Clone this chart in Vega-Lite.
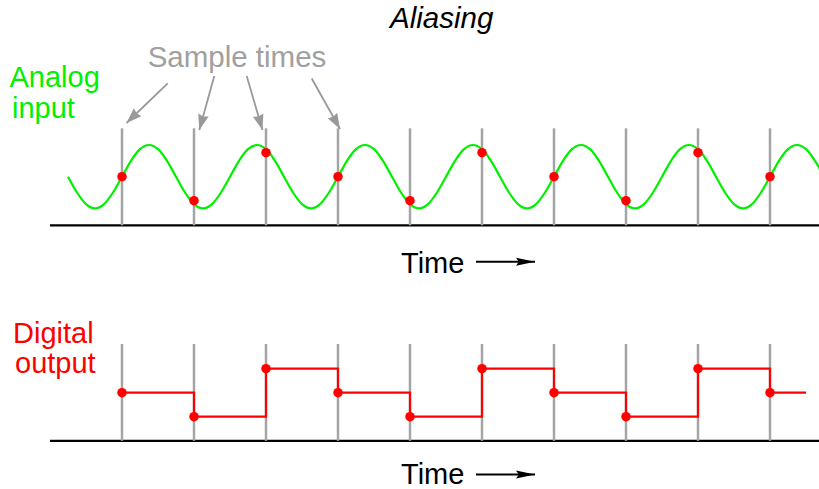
{
  "$schema": "https://vega.github.io/schema/vega-lite/v6.json",
  "width": 819,
  "height": 489,
  "padding": 0,
  "autosize": {"type": "none"},
  "background": "white",
  "config": {"view": {"stroke": null}},
  "datasets": {
    "analog": [
      {"t":0.25,"v":312.3},{"t":0.375,"v":296.5},{"t":0.5,"v":284.9},{"t":0.625,"v":280.6},{"t":0.75,"v":284.9},{"t":0.875,"v":296.5},
      {"t":1.0,"v":312.3},{"t":1.125,"v":328.2},{"t":1.25,"v":339.8},{"t":1.375,"v":344.0},{"t":1.5,"v":339.8},{"t":1.625,"v":328.2},
      {"t":1.75,"v":312.3},{"t":1.875,"v":296.5},{"t":2.0,"v":284.9},{"t":2.125,"v":280.6},{"t":2.25,"v":284.9},{"t":2.375,"v":296.5},
      {"t":2.5,"v":312.3},{"t":2.625,"v":328.2},{"t":2.75,"v":339.8},{"t":2.875,"v":344.0},{"t":3.0,"v":339.8},{"t":3.125,"v":328.2},
      {"t":3.25,"v":312.3},{"t":3.375,"v":296.5},{"t":3.5,"v":284.9},{"t":3.625,"v":280.6},{"t":3.75,"v":284.9},{"t":3.875,"v":296.5},
      {"t":4.0,"v":312.3},{"t":4.125,"v":328.2},{"t":4.25,"v":339.8},{"t":4.375,"v":344.0},{"t":4.5,"v":339.8},{"t":4.625,"v":328.2},
      {"t":4.75,"v":312.3},{"t":4.875,"v":296.5},{"t":5.0,"v":284.9},{"t":5.125,"v":280.6},{"t":5.25,"v":284.9},{"t":5.375,"v":296.5},
      {"t":5.5,"v":312.3},{"t":5.625,"v":328.2},{"t":5.75,"v":339.8},{"t":5.875,"v":344.0},{"t":6.0,"v":339.8},{"t":6.125,"v":328.2},
      {"t":6.25,"v":312.3},{"t":6.375,"v":296.5},{"t":6.5,"v":284.9},{"t":6.625,"v":280.6},{"t":6.75,"v":284.9},{"t":6.875,"v":296.5},
      {"t":7.0,"v":312.3},{"t":7.125,"v":328.2},{"t":7.25,"v":339.8},{"t":7.375,"v":344.0},{"t":7.5,"v":339.8},{"t":7.625,"v":328.2},
      {"t":7.75,"v":312.3},{"t":7.875,"v":296.5},{"t":8.0,"v":284.9},{"t":8.125,"v":280.6},{"t":8.25,"v":284.9},{"t":8.375,"v":296.5},
      {"t":8.5,"v":312.3},{"t":8.625,"v":328.2},{"t":8.75,"v":339.8},{"t":8.875,"v":344.0},{"t":9.0,"v":339.8},{"t":9.125,"v":328.2},
      {"t":9.25,"v":312.3},{"t":9.375,"v":296.5},{"t":9.5,"v":284.9},{"t":9.625,"v":280.6},{"t":9.75,"v":284.9},{"t":9.875,"v":296.5},
      {"t":10.0,"v":312.3},{"t":10.125,"v":328.2},{"t":10.25,"v":339.8},{"t":10.375,"v":344.0},{"t":10.5,"v":339.8},{"t":10.625,"v":328.2},
      {"t":10.75,"v":312.3}
    ],
    "samples": [
      {"t":1,"a":312.3,"d":96.3},{"t":2,"a":288.3,"d":72.3},{"t":3,"a":336.3,"d":120.3},{"t":4,"a":312.3,"d":96.3},{"t":5,"a":288.3,"d":72.3},
      {"t":6,"a":336.3,"d":120.3},{"t":7,"a":312.3,"d":96.3},{"t":8,"a":288.3,"d":72.3},{"t":9,"a":336.3,"d":120.3},{"t":10,"a":312.3,"d":96.3}
    ],
    "digital": [
      {"t":1,"d":96.3},{"t":2,"d":72.3},{"t":3,"d":120.3},{"t":4,"d":96.3},{"t":5,"d":72.3},{"t":6,"d":120.3},
      {"t":7,"d":96.3},{"t":8,"d":72.3},{"t":9,"d":120.3},{"t":10,"d":96.3},{"t":10.5,"d":96.3}
    ],
    "arrows": [
      {"id":1,"t1":1.635,"v1":405.7,"t2":1.0625,"v2":366},
      {"id":2,"t1":2.282,"v1":413,"t2":2.074,"v2":359},
      {"id":3,"t1":2.732,"v1":413,"t2":2.951,"v2":359},
      {"id":4,"t1":3.635,"v1":410.5,"t2":4.028,"v2":360}
    ],
    "timearrows": [
      {"t1":5.917,"t2":6.736,"v":227.3},
      {"t1":5.917,"t2":6.736,"v":14.5}
    ]
  },
  "layer": [
    {
      "data": {"values": [{"t0":0,"t1":10.681,"v":263.7},{"t0":0,"t1":10.681,"v":48.2}]},
      "mark": {"type": "rule", "color": "black", "strokeWidth": 2.2},
      "encoding": {
        "x": {"field": "t0", "type": "quantitative", "axis": null, "scale": {"domain": [-0.69444, 10.68056], "nice": false, "zero": false}},
        "x2": {"field": "t1"},
        "y": {"field": "v", "type": "quantitative", "axis": null, "scale": {"domain": [0, 489], "nice": false, "zero": false}}
      }
    },
    {
      "data": {"name": "samples"},
      "mark": {"type": "rule", "color": "#a4a4a4", "strokeWidth": 2.5},
      "encoding": {
        "x": {"field": "t", "type": "quantitative"},
        "y": {"datum": 360.7},
        "y2": {"datum": 263.7}
      }
    },
    {
      "data": {"name": "samples"},
      "mark": {"type": "rule", "color": "#a4a4a4", "strokeWidth": 2.5},
      "encoding": {
        "x": {"field": "t", "type": "quantitative"},
        "y": {"datum": 145},
        "y2": {"datum": 48.2}
      }
    },
    {
      "data": {"name": "analog"},
      "mark": {"type": "line", "color": "#00f000", "strokeWidth": 2.2, "interpolate": "monotone"},
      "encoding": {
        "x": {"field": "t", "type": "quantitative"},
        "y": {"field": "v", "type": "quantitative"}
      }
    },
    {
      "data": {"name": "digital"},
      "mark": {"type": "line", "color": "#ff0000", "strokeWidth": 2.2, "interpolate": "step-after"},
      "encoding": {
        "x": {"field": "t", "type": "quantitative"},
        "y": {"field": "d", "type": "quantitative"}
      }
    },
    {
      "data": {"name": "samples"},
      "mark": {"type": "point", "shape": "circle", "filled": true, "color": "#ff0000", "size": 90, "opacity": 1},
      "encoding": {
        "x": {"field": "t", "type": "quantitative"},
        "y": {"field": "a", "type": "quantitative"}
      }
    },
    {
      "data": {"name": "samples"},
      "mark": {"type": "point", "shape": "circle", "filled": true, "color": "#ff0000", "size": 90, "opacity": 1},
      "encoding": {
        "x": {"field": "t", "type": "quantitative"},
        "y": {"field": "d", "type": "quantitative"}
      }
    },
    {
      "data": {"name": "arrows"},
      "mark": {"type": "rule", "color": "#999999", "strokeWidth": 1.8},
      "encoding": {
        "x": {"field": "t1", "type": "quantitative"},
        "y": {"field": "v1", "type": "quantitative"},
        "x2": {"field": "t2"},
        "y2": {"field": "v2"}
      }
    },
    {
      "data": {"name": "arrows"},
      "transform": [{"filter": "datum.id == 1"}],
      "mark": {"type": "point", "shape": "M0,0L-2,-0.7L-1.8,0L-2,0.7Z", "filled": true, "color": "#999999", "size": 240, "opacity": 1},
      "encoding": {
        "x": {"field": "t2", "type": "quantitative"},
        "y": {"field": "v2", "type": "quantitative"},
        "angle": {"value": 136}
      }
    },
    {
      "data": {"name": "arrows"},
      "transform": [{"filter": "datum.id == 2"}],
      "mark": {"type": "point", "shape": "M0,0L-2,-0.7L-1.8,0L-2,0.7Z", "filled": true, "color": "#999999", "size": 240, "opacity": 1},
      "encoding": {
        "x": {"field": "t2", "type": "quantitative"},
        "y": {"field": "v2", "type": "quantitative"},
        "angle": {"value": 105.5}
      }
    },
    {
      "data": {"name": "arrows"},
      "transform": [{"filter": "datum.id == 3"}],
      "mark": {"type": "point", "shape": "M0,0L-2,-0.7L-1.8,0L-2,0.7Z", "filled": true, "color": "#999999", "size": 240, "opacity": 1},
      "encoding": {
        "x": {"field": "t2", "type": "quantitative"},
        "y": {"field": "v2", "type": "quantitative"},
        "angle": {"value": 73.7}
      }
    },
    {
      "data": {"name": "arrows"},
      "transform": [{"filter": "datum.id == 4"}],
      "mark": {"type": "point", "shape": "M0,0L-2,-0.7L-1.8,0L-2,0.7Z", "filled": true, "color": "#999999", "size": 240, "opacity": 1},
      "encoding": {
        "x": {"field": "t2", "type": "quantitative"},
        "y": {"field": "v2", "type": "quantitative"},
        "angle": {"value": 60.7}
      }
    },
    {
      "data": {"name": "timearrows"},
      "mark": {"type": "rule", "color": "black", "strokeWidth": 2},
      "encoding": {
        "x": {"field": "t1", "type": "quantitative"},
        "x2": {"field": "t2"},
        "y": {"field": "v", "type": "quantitative"}
      }
    },
    {
      "data": {"name": "timearrows"},
      "mark": {"type": "point", "shape": "M0,0L-2,-0.42L-1.7,0L-2,0.42Z", "filled": true, "color": "black", "size": 361, "opacity": 1},
      "encoding": {
        "x": {"field": "t2", "type": "quantitative"},
        "y": {"field": "v", "type": "quantitative"}
      }
    },
    {
      "data": {"values": [{"label": "Aliasing", "t": 5.44, "v": 460.7}]},
      "mark": {"type": "text", "font": "Liberation Sans", "fontSize": 29.5, "fontStyle": "italic", "align": "center", "baseline": "alphabetic", "color": "black"},
      "encoding": {
        "text": {"field": "label"},
        "x": {"field": "t", "type": "quantitative"},
        "y": {"field": "v", "type": "quantitative"}
      }
    },
    {
      "data": {"values": [{"label": "Sample times", "t": 2.597, "v": 422.3}]},
      "mark": {"type": "text", "font": "Liberation Sans", "fontSize": 29.5, "align": "center", "baseline": "alphabetic", "color": "#a0a0a0"},
      "encoding": {
        "text": {"field": "label"},
        "x": {"field": "t", "type": "quantitative"},
        "y": {"field": "v", "type": "quantitative"}
      }
    },
    {
      "data": {"values": [{"label": "Analog", "t": -0.5625, "v": 402.3}, {"label": "input", "t": -0.528, "v": 370.7}]},
      "mark": {"type": "text", "font": "Liberation Sans", "fontSize": 29, "align": "left", "baseline": "alphabetic", "color": "#00f000"},
      "encoding": {
        "text": {"field": "label"},
        "x": {"field": "t", "type": "quantitative"},
        "y": {"field": "v", "type": "quantitative"}
      }
    },
    {
      "data": {"values": [{"label": "Digital", "t": -0.514, "v": 145.7}, {"label": "output", "t": -0.486, "v": 115.7}]},
      "mark": {"type": "text", "font": "Liberation Sans", "fontSize": 29, "align": "left", "baseline": "alphabetic", "color": "#ff0000"},
      "encoding": {
        "text": {"field": "label"},
        "x": {"field": "t", "type": "quantitative"},
        "y": {"field": "v", "type": "quantitative"}
      }
    },
    {
      "data": {"values": [{"label": "Time", "t": 4.875, "v": 215.7}, {"label": "Time", "t": 4.875, "v": 5}]},
      "mark": {"type": "text", "font": "Liberation Sans", "fontSize": 29, "align": "left", "baseline": "alphabetic", "color": "black"},
      "encoding": {
        "text": {"field": "label"},
        "x": {"field": "t", "type": "quantitative"},
        "y": {"field": "v", "type": "quantitative"}
      }
    }
  ]
}
